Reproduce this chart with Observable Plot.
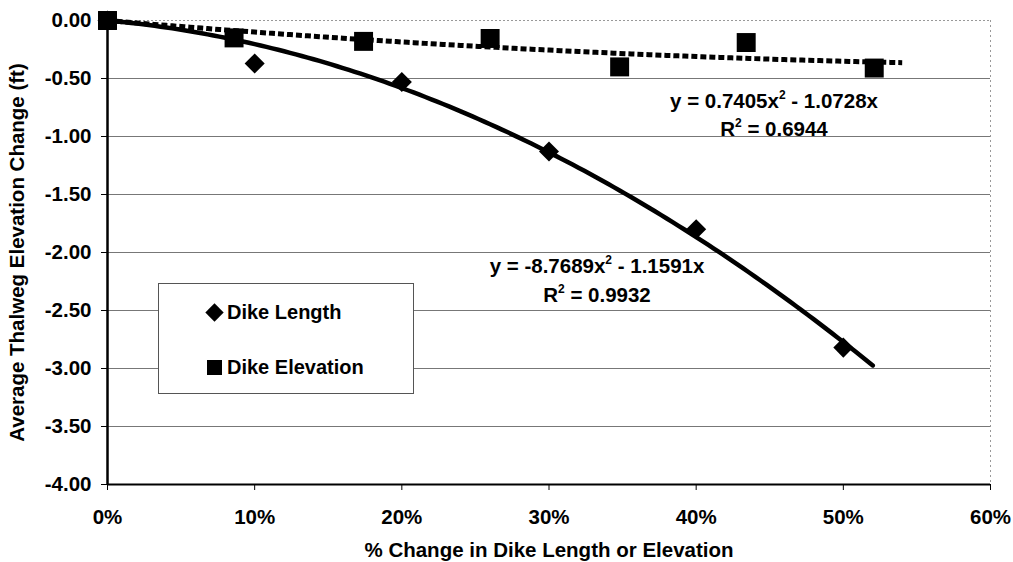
<!DOCTYPE html>
<html><head><meta charset="utf-8">
<script src="https://cdn.jsdelivr.net/npm/d3@7"></script>
<script src="https://cdn.jsdelivr.net/npm/@observablehq/plot@0.6"></script>
<style>
body{margin:0;background:#fff;}
#wrap{position:relative;width:1013px;height:562px;font-family:"Liberation Sans",Arial,sans-serif;font-weight:bold;color:#000;}
.ann{position:absolute;font-size:20.5px;line-height:24px;text-align:center;white-space:nowrap;transform:translate(-50%,-50%);}
.ann sup{font-size:12px;vertical-align:9px;line-height:0;}
#legend{position:absolute;left:158px;top:283px;width:254px;height:109px;border:1px solid #555;background:#fff;}
.lg{position:absolute;left:0;font-size:20px;line-height:24px;white-space:nowrap;}
.sym{position:absolute;background:#000;}
</style></head><body><div id="wrap"></div>
<script>
// Data
const lengthPct = [0, 0.10, 0.20, 0.30, 0.40, 0.50];
const lengthChange = [0, -0.37, -0.53, -1.13, -1.80, -2.82];
const elevPct = [0, 0.086, 0.174, 0.260, 0.348, 0.434, 0.521];
const elevChange = [0, -0.15, -0.18, -0.155, -0.40, -0.19, -0.41];
// Trendline coefficients shown on the chart: y = a x^2 + b x
const lengthFit = [-8.7689, -1.1591];
const elevFit = [0.7405, -1.0728];
const lengthFitEnd = 0.52;
const elevFitEnd = 0.54;
const yTicks = [0, -0.5, -1, -1.5, -2, -2.5, -3, -3.5, -4];
const gridTicks = [-0.5, -1, -1.5, -2, -2.5, -3, -3.5];
const xTicks = [0, 0.1, 0.2, 0.3, 0.4, 0.5, 0.6];
const legendLabels = ["Dike Length", "Dike Elevation"];
const eqLength = ["y = -8.7689x", "2", " - 1.1591x", "R", "2", " = 0.9932"];
const eqElev = ["y = 0.7405x", "2", " - 1.0728x", "R", "2", " = 0.6944"];

const lengthPts = lengthPct.map((x, i) => ({x, y: lengthChange[i]}));
const elevPts = elevPct.map((x, i) => ({x, y: elevChange[i]}));
const curve = (coef, end) => d3.range(0, end + 1e-9, 0.004).map(x => ({x, y: coef[0] * x * x + coef[1] * x}));

const chart = Plot.plot({
  width: 1013, height: 562,
  marginLeft: 107, marginRight: 23, marginTop: 20, marginBottom: 78,
  style: {fontFamily: '"Liberation Sans", Arial, sans-serif', fontWeight: "bold", fontSize: "20.5px", color: "#000", background: "#fff"},
  x: {domain: [0, 0.6]},
  y: {domain: [-4, 0]},
  marks: [
    Plot.ruleY(gridTicks, {stroke: "#777", strokeWidth: 1}),
    Plot.ruleY([0], {stroke: "#999", strokeWidth: 1, strokeDasharray: "2,2"}),
    Plot.ruleX([0.6], {stroke: "#999", strokeWidth: 1, strokeDasharray: "2,3"}),
    Plot.axisY({ticks: yTicks, tickFormat: d => d.toFixed(2), tickSize: 6, tickPadding: 10, tickStrokeWidth: 1.5,
      label: "Average Thalweg Elevation Change (ft)", labelAnchor: "center", labelArrow: "none", labelOffset: 98}),
    Plot.axisX({ticks: xTicks, tickFormat: d => Math.round(d * 100) + "%", tickSize: 6, tickPadding: 19,
      label: "% Change in Dike Length or Elevation", labelAnchor: "center", labelArrow: "none", labelOffset: 72}),
    Plot.ruleX([0], {stroke: "#000", strokeWidth: 2.5}),
    Plot.ruleY([-4], {stroke: "#000", strokeWidth: 2}),
    Plot.dot(elevPts, {x: "x", y: "y", symbol: "square", r: 10.7, fill: "#000", stroke: "none"}),
    Plot.dot(lengthPts, {x: "x", y: "y", symbol: "square", r: 8, rotate: 45, fill: "#000", stroke: "none"}),
    Plot.line(curve(elevFit, elevFitEnd), {x: "x", y: "y", stroke: "#000", strokeWidth: 5, strokeDasharray: "6,3", strokeLinecap: "butt"}),
    Plot.line(curve(lengthFit, lengthFitEnd), {x: "x", y: "y", stroke: "#000", strokeWidth: 4.5, strokeLinecap: "round"})
  ]
});
const wrap = document.getElementById("wrap");
wrap.appendChild(chart);

function ann(parts, cx, cy1, cy2) {
  const a = document.createElement("div");
  a.className = "ann"; a.style.left = cx + "px"; a.style.top = cy1 + "px";
  a.innerHTML = parts[0] + "<sup>" + parts[1] + "</sup>" + parts[2];
  wrap.appendChild(a);
  const b = document.createElement("div");
  b.className = "ann"; b.style.left = cx + "px"; b.style.top = cy2 + "px";
  b.innerHTML = parts[3] + "<sup>" + parts[4] + "</sup>" + parts[5];
  wrap.appendChild(b);
}
ann(eqElev, 774, 101, 129);
ann(eqLength, 597, 266, 295);

const lg = document.createElement("div");
lg.id = "legend";
lg.innerHTML =
  '<div class="sym" style="left:49px;top:22px;width:13px;height:13px;transform:rotate(45deg)"></div>' +
  '<div class="lg" style="left:68px;top:16px">' + legendLabels[0] + '</div>' +
  '<div class="sym" style="left:48px;top:76px;width:15px;height:15px"></div>' +
  '<div class="lg" style="left:68px;top:71px">' + legendLabels[1] + '</div>';
wrap.appendChild(lg);
</script></body></html>
